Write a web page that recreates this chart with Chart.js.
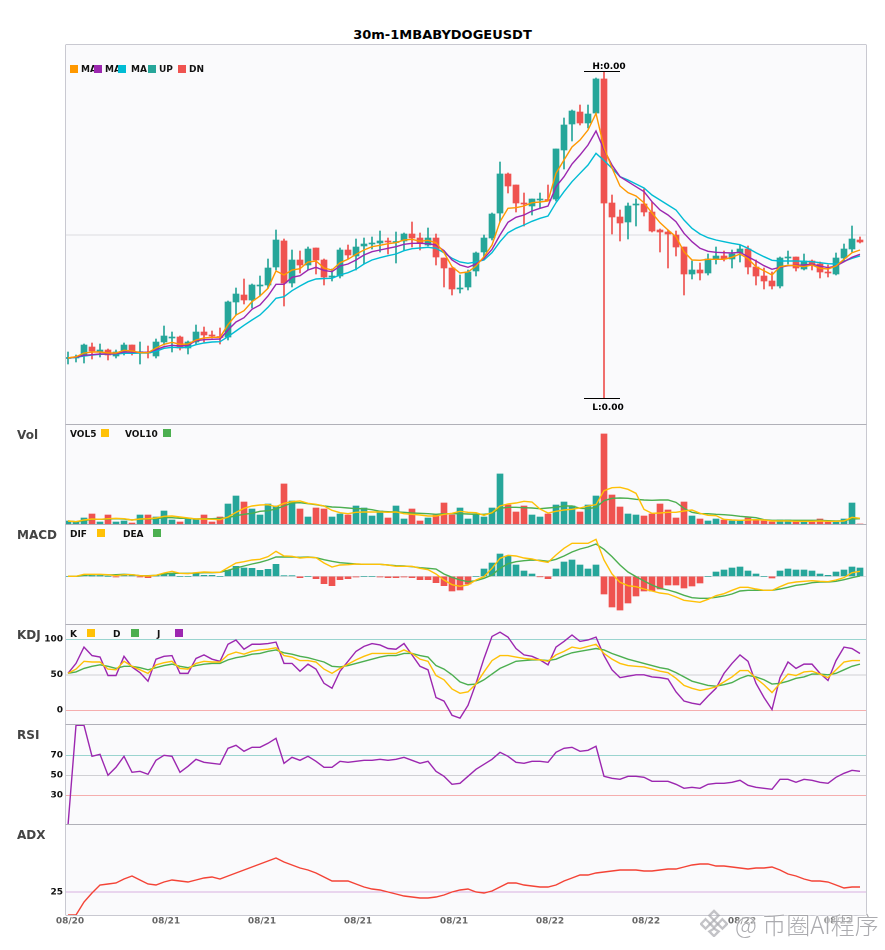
<!DOCTYPE html>
<html>
<head>
<meta charset="utf-8">
<title>30m-1MBABYDOGEUSDT</title>
<script src="https://cdn.jsdelivr.net/npm/chart.js@4"></script>
<style>
  html, body { margin: 0; padding: 0; background: #fff; }
  #page { position: relative; width: 885px; height: 950px; overflow: hidden; font-family: "DejaVu Sans", sans-serif; }
  canvas { position: absolute; left: 0; }
  .title { position: absolute; left: 0; width: 885px; top: 27px; text-align: center; font-size: 13px; font-weight: bold; color: #000; }
  .panel { position: absolute; left: 17px; font-size: 12px; font-weight: bold; color: #444; line-height: 14px; }
  .lg { position: absolute; font-size: 9px; font-weight: bold; color: #111; line-height: 10px; white-space: nowrap; }
  .sq { position: absolute; width: 8px; height: 8px; }
  .mark { position: absolute; left: 735px; top: 906px; font-family: "Noto Sans CJK SC", sans-serif; font-size: 24px; font-weight: 300; color: rgba(150,150,155,0.8); white-space: nowrap; text-shadow: 0 0 3px #fff, 0 0 3px #fff, 0 0 3px #fff; }
  .mark svg { position: absolute; left: -35px; top: 3px; }
</style>
</head>
<body>
<div id="page">
  <div class="title">30m-1MBABYDOGEUSDT</div>
  <canvas id="mainChart" width="885" height="388" style="top:41px"></canvas>
  <canvas id="volChart" width="885" height="108" style="top:421px"></canvas>
  <canvas id="macdChart" width="885" height="108" style="top:521px"></canvas>
  <canvas id="kdjChart" width="885" height="108" style="top:621px"></canvas>
  <canvas id="rsiChart" width="885" height="108" style="top:721px"></canvas>
  <canvas id="adxChart" width="885" height="118" style="top:821px"></canvas>

  <div class="panel" style="top:428px">Vol</div>
  <div class="panel" style="top:528px">MACD</div>
  <div class="panel" style="top:628px">KDJ</div>
  <div class="panel" style="top:728px">RSI</div>
  <div class="panel" style="top:828px">ADX</div>

  <div id="legends"></div>
  <div class="mark">
    <svg width="28" height="28" viewBox="0 0 30 30"><g fill="none" stroke="rgba(170,170,175,0.7)" stroke-width="2.5"><path d="M15 2l5 5-5 5-5-5z"/><path d="M6 11l5 5-5 5-5-5z"/><path d="M24 11l5 5-5 5-5-5z"/><path d="M15 12l4 4-4 4-4-4z"/><path d="M15 21l5 3-5 5-5-5z"/></g></svg>
    @ 币圈AI程序
  </div>
</div>

<script>
const tickLabels = ['08/20', '08/21', '08/21', '08/21', '08/21', '08/22', '08/22', '08/22', '08/22'];
const tickIndexes = [0, 12, 24, 36, 48, 60, 72, 84, 96];

// price panel, no price axis in the picture so values are in relative units
const opens = [66.5,67,69,78,73.7,75,69,73,80,72.3,73,69,83,87,88,77,83,93,90,88,88,123,130,125,139,140,158,184,142,165,160,177,165,148,149,175,169,179,181,182,184,182.5,184,191,187,180,187,167,157,136,138,154,173,187,212,251,240,222,219,225,225,226,275,301,313,302,312,346,222,208,203,220,221,213,195,193,190,178,151,155,152,166,169,166,172,176,158,149,144,139,167,168,156,164,161,153,151,167,176,185];
const closes = [67,67.5,80,74,75,70,73,80,73,73,72,83,89,88,77,83,93,90,89,87.5,123,131,125,140,140,157,185,142,165,160,176,165,148,149,175,170,178,181,182,184,183,183,191,187,182,187,168,157,136,137,153,172,187,211,251,239,222,221,226,226,224.5,276,300,314,302,311,346,222,208,202,219,221,213,194,193,191,178,151,155,152,166,169,166,171,176,158,149,144,139,167,168,157,164,160,153,152,167,176,186,183];
const highs = [73,70,81,82,81,76,75,82,80,83,79,86,99,93,89,84,100,98,94,97,124,137,146,141,149,166,195,186,175,174,178,177,166,156,177,180,186,187,188,194,187,193,192,203,192,197,191,167,157,150,155,173,190,212,263,252,240,232,226,232,240,276,307,315,320,320,347,353,230,215,222,226,236,223,196,195,194,178,164,162,171,178,174,175,180,179,165,157,153,168,174,168,171,165,163,160,172,181,199,188];
const lows = [61,63,62,66,68,65,67,70,70,61,67,67,80,73,75,71,81,83,87,81,85,110,121,117,129,137,155,119,138,152,155,151,140,144,147,166,155,161,176,173,171,162,175,178,175,179,160,138,130,132,135,149,166,185,203,232,213,199,210,217,224,224,256,284,300,297,312,27,191,184,186,199,209,193,173,157,169,130,146,145,150,161,164,157,163,151,140,136,136,137,161,154,155,155,147,148,150,164,173,182];
const ma1 = [67,68.3,72,73,73,72,72,74.7,74,72.3,72.3,77,80.7,82.7,80.7,81,85,87,87.7,87.7,100.3,110,114.3,123.3,129,136.7,154,150,155,156.3,163,164,157,155,162.3,165.7,170.7,175,178.3,179.7,181.3,182.3,185,185.7,183.7,184.7,182.3,172.3,158.3,152,153,159,168.3,180,203.3,216.7,217.3,219,222.3,223,224,251.7,265,278,285,295,311.5,277.5,257,239,232.3,229,222.3,212,202.3,195,188.3,173.3,165,164.7,165.7,165.7,165.7,167.7,171,166.3,158.3,154.3,150,158.3,159.7,159.3,158.3,160,156.7,156,159,165.7,172.3,175];
const ma2 = [67,68,69.7,70.3,71,71,71.3,73,73,72.7,72.7,75.3,78.3,79.7,79,79.7,84.3,85.3,85.7,86,95,103,107.3,115.7,120,129,140.7,140.7,147.7,149.3,155,157.7,154.5,153.3,159,161,165,170,173.3,175,176.7,178.3,180.7,181.7,181.7,181.3,180,174.3,165,160,157.7,161,166.7,175.7,190,202.7,207.7,210,214,216.7,219,238.3,248.3,261,270,280,294,275,260,248.3,243.3,238.3,233.3,223.3,215,210,203.3,191.7,183.3,176.7,173.7,172.7,172.3,172,172.7,168.3,164,159.3,155.7,157.7,159.3,159.7,160,160.7,159,157.3,159,163.3,167.7,170.7];
const ma3 = [67,67.7,69,70,70.7,71,71,71.7,71.7,72,72,73.7,76.7,77.7,77.3,77.7,80.3,82,83,83.3,88.3,94,99.7,105,110,117.7,126.7,128.3,134.3,139,143.3,146,146.5,146.7,150,152.3,155.7,161,165,167.3,169.3,171,174.3,176.3,177,177.7,176.7,172.3,166.7,163,161.7,163,165,172.3,183.3,192.3,196.7,200,203.7,206.7,209,222.3,233.3,243.3,251.7,260,271.7,264.5,256.7,248.3,245,241,237,230,225,220,215,205,196.7,191,187.3,185,183.3,181.7,180.3,176.7,172.3,168.3,164.7,164,164,164,163.7,163.3,162.3,161.3,161,163.7,166.7,169];

const volumes = [10,7,19,31,7,28,7,10,4,28,28,22,40,13,7,16,16,28,7,22,61,85,67,46,28,61,55,121,70,46,22,49,46,22,31,28,55,49,25,40,19,55,16,46,10,19,28,64,28,49,16,31,22,49,151,58,37,55,28,22,31,58,67,55,37,58,85,271,88,52,31,28,25,31,61,43,19,67,25,16,10,16,13,10,10,19,13,10,7,13,13,10,7,7,16,7,7,16,64,1];
const vol5 = [10,8,13,16,15,17,18,17,13,16,17,19,24,25,22,19,16,16,15,14,22,36,48,55,58,59,53,63,68,70,63,60,55,42,35,32,36,37,37,37,36,37,32,30,28,25,25,30,33,39,36,35,27,35,55,61,64,69,67,46,34,39,43,45,49,55,59,101,110,111,105,93,45,33,34,36,36,40,43,33,27,26,15,13,12,13,14,13,10,10,10,9,9,9,10,9,9,10,21,18];
const vol10 = [10,8,11,15,15,16,17,16,13,16,16,17,20,20,18,18,16,17,17,18,20,26,30,33,39,41,46,55,64,65,62,59,55,52,51,49,47,47,44,39,38,37,36,34,33,32,30,32,32,32,31,30,30,33,48,51,51,50,49,47,49,51,55,55,48,47,51,71,78,79,78,75,73,72,73,73,66,48,36,32,32,30,29,27,24,22,20,14,12,12,12,12,12,12,12,11,10,11,16,17];

const macdHist = [0,0,3,1,1,0,-2,3,3,-2,-4,1,6,9,0,0,9,3,3,0,18,30,25,24,18,21,36,2,2,-4,0,-7,-22,-28,-10,-7,-2,0,0,-2,-4,-4,-2,-4,-10,-10,-19,-28,-44,-41,-23,0,22,40,67,61,34,16,7,-1,-7,22,43,49,34,22,34,-53,-92,-101,-80,-59,-44,-44,-38,-26,-26,-35,-29,-20,0,13,19,25,28,16,7,0,-5,16,22,19,19,16,7,3,13,19,28,25];
const dif = [0,0,6,6,6,5,2,5,5,2,1,3,10,15,9,8,11,13,12,12,26,40,44,49,51,59,75,61,60,55,57,56,40,28,34,35,37,36,36,36,34,30,30,30,24,20,7,-11,-25,-30,-26,-11,-1,24,54,63,61,55,52,46,42,64,84,99,99,99,111,49,7,-18,-28,-31,-38,-44,-50,-53,-62,-72,-75,-78,-69,-58,-52,-42,-33,-33,-38,-42,-42,-31,-21,-17,-15,-13,-15,-16,-11,-4,11,15];
const dea = [0,0,3,5,5,4,5,6,5,2,2,3,7,9,9,9,10,11,11,12,18,25,31,37,42,49,58,58,58,57,58,56,50,45,41,39,37,36,36,36,34,32,31,29,26,24,22,7,-3,-11,-16,-13,-6,4,24,38,44,47,49,48,45,51,61,73,82,88,97,81,59,34,13,-1,-14,-26,-36,-41,-48,-57,-64,-66,-66,-63,-59,-53,-44,-42,-42,-42,-42,-38,-33,-27,-24,-19,-17,-17,-15,-10,-4,1];

const kdjK = [52,58,69,68,68,58,57,69,62,57,52,64,67,69,59,58,66,69,68,68,78,82,79,83,85,86,88,77,75,70,70,68,58,52,59,65,71,76,80,80,80,80,85,80,72,69,49,43,30,24,26,37,54,70,77,77,75,73,72,71,69,78,83,89,87,90,93,80,72,66,63,62,61,58,55,53,45,35,31,28,30,33,40,47,56,56,45,36,25,38,51,49,54,55,51,46,57,68,70,70];
const kdjD = [52,54,59,62,64,62,59,62,62,60,57,60,63,65,62,60,63,65,66,66,71,74,76,79,80,83,85,81,79,76,74,71,68,62,61,63,66,69,72,75,77,77,80,80,77,75,63,58,50,40,36,37,43,51,59,64,69,70,71,71,70,72,77,81,83,85,87,85,80,76,72,69,66,63,60,58,53,47,41,38,35,34,36,39,45,49,47,43,37,38,41,45,47,51,51,50,52,57,62,65];
const kdjJ = [52,66,89,77,75,49,49,76,61,53,41,72,76,77,52,52,73,78,72,69,93,99,86,93,93,94,96,66,66,55,65,58,38,31,55,69,83,90,94,92,87,86,94,78,62,57,18,13,-7,-11,7,38,73,104,110,103,87,78,76,71,64,89,97,106,97,99,103,77,57,46,48,50,50,47,46,44,26,13,10,8,20,31,52,66,78,69,38,18,1,46,68,59,65,65,52,42,70,89,87,80];

const rsi = [0,100,100,69,71,50,58,69,53,54,51,65,70,69,53,59,66,63,62,61,77,80,74,78,78,82,87,62,68,65,69,64,58,58,64,63,64,65,65,66,65,66,68,65,62,64,54,49,41,42,49,56,61,66,73,69,63,62,64,64,63,73,77,78,74,75,79,49,47,46,49,49,48,44,44,44,41,37,38,37,41,42,42,43,45,40,38,37,36,46,46,43,46,45,43,42,48,52,55,54];
const adx = [2,2,15,24,32,33,34,38,41,37,33,32,35,37,36,35,37,39,40,38,41,44,47,50,53,56,59,55,52,49,47,44,40,36,36,36,33,30,28,27,25,23,21,20,19,19,20,22,25,27,28,25,24,26,30,34,34,32,31,30,30,32,36,39,42,42,44,45,46,47,47,47,46,46,47,48,48,50,52,53,53,51,51,50,49,48,49,49,50,47,43,41,38,36,36,35,32,29,30,30];

const UP = '#26a69a';
const DOWN = '#ef5350';
const PANEL_BG = '#fafafc';
const FRAME = '#c9c9d1';
const FRAME_DARK = '#b0b0b8';
const xs = closes.map((_, i) => i);
const candleColors = closes.map((c, i) => (c >= opens[i] ? UP : DOWN));
const histColors = macdHist.map(v => (v >= 0 ? UP : DOWN));

function series(values) {
  return values.map((v, i) => ({ x: xs[i], y: v }));
}

function lineSet(values, color, width) {
  return {
    type: 'line',
    data: series(values),
    borderColor: color,
    borderWidth: width || 1.4,
    pointRadius: 0,
    tension: 0,
    order: 1
  };
}

function barSet(points, colors, thickness, extra) {
  return Object.assign({
    type: 'bar',
    data: points,
    backgroundColor: colors,
    borderWidth: 0,
    barThickness: thickness,
    grouped: false,
    order: 3
  }, extra || {});
}

// panel background and frame, drawn by the chart itself
const framePlugin = {
  id: 'frame',
  beforeDraw(chart, args, opts) {
    const a = chart.chartArea;
    const ctx = chart.ctx;
    ctx.save();
    ctx.fillStyle = PANEL_BG;
    ctx.fillRect(a.left, a.top, a.width, a.height);
    ctx.restore();
  },
  afterDraw(chart, args, opts) {
    const a = chart.chartArea;
    const ctx = chart.ctx;
    ctx.save();
    ctx.lineWidth = 1;
    ctx.strokeStyle = FRAME;
    ctx.beginPath();
    ctx.moveTo(a.left - 0.5, a.top);
    ctx.lineTo(a.left - 0.5, a.bottom);
    ctx.moveTo(a.right + 0.5, a.top);
    ctx.lineTo(a.right + 0.5, a.bottom);
    ctx.stroke();
    ctx.strokeStyle = opts.topColor || FRAME_DARK;
    ctx.beginPath();
    ctx.moveTo(a.left - 0.5, a.top - 0.5);
    ctx.lineTo(a.right + 0.5, a.top - 0.5);
    ctx.stroke();
    if (opts.bottom) {
      ctx.strokeStyle = FRAME;
      ctx.beginPath();
      ctx.moveTo(a.left - 0.5, a.bottom + 0.5);
      ctx.lineTo(a.right + 0.5, a.bottom + 0.5);
      ctx.stroke();
    }
    ctx.restore();
  }
};

// H and L markers on the biggest candle
const extremePlugin = {
  id: 'extremes',
  afterDatasetsDraw(chart) {
    const x = chart.scales.x;
    const y = chart.scales.y;
    const hi = Math.max(...highs);
    const lo = Math.min(...lows);
    const hx = x.getPixelForValue(highs.indexOf(hi));
    const lx = x.getPixelForValue(lows.indexOf(lo));
    const ctx = chart.ctx;
    ctx.save();
    ctx.strokeStyle = '#000';
    ctx.lineWidth = 1;
    ctx.fillStyle = '#000';
    ctx.font = 'bold 9px "DejaVu Sans"';
    ctx.textAlign = 'center';
    ctx.beginPath();
    ctx.moveTo(hx - 20, Math.round(y.getPixelForValue(hi)) - 0.5);
    ctx.lineTo(hx + 16, Math.round(y.getPixelForValue(hi)) - 0.5);
    ctx.moveTo(lx - 20, Math.round(y.getPixelForValue(lo)) + 0.5);
    ctx.lineTo(lx + 16, Math.round(y.getPixelForValue(lo)) + 0.5);
    ctx.stroke();
    ctx.fillText('H:0.00', hx + 5, y.getPixelForValue(hi) - 3);
    ctx.fillText('L:0.00', lx + 4, y.getPixelForValue(lo) + 12);
    ctx.restore();
  }
};

function makePanel(id, cfg) {
  const ticks = cfg.ticks;
  const colors = cfg.tickColors || {};
  return new Chart(document.getElementById(id), {
    data: { datasets: cfg.datasets },
    plugins: [framePlugin].concat(cfg.plugins || []),
    options: {
      responsive: false,
      animation: false,
      devicePixelRatio: 2,
      layout: { padding: { top: 4, right: 19, bottom: 4, left: 0 } },
      plugins: {
        legend: { display: false },
        tooltip: { enabled: false },
        frame: { topColor: cfg.topColor, bottom: cfg.showDates }
      },
      scales: {
        x: {
          type: 'linear',
          display: !!cfg.showDates,
          min: -0.25,
          max: 99.75,
          offset: false,
          grid: { display: false, drawTicks: false },
          border: { display: false },
          afterBuildTicks(scale) { scale.ticks = tickIndexes.map(v => ({ value: v })); },
          afterFit(scale) {
            if (cfg.showDates) scale.height = 20;
            scale.paddingLeft = 0;
            scale.paddingRight = 0;
          },
          ticks: {
            autoSkip: false,
            maxRotation: 0,
            padding: 1,
            labelOffset: 2,
            color: '#666',
            font: { family: 'DejaVu Sans', size: 9, weight: 'bold' },
            callback(value) { return tickLabels[tickIndexes.indexOf(value)]; }
          }
        },
        y: {
          min: cfg.min,
          max: cfg.max,
          afterBuildTicks(scale) { scale.ticks = ticks.map(v => ({ value: v })); },
          afterFit(scale) {
            scale.width = 66;
            scale.paddingTop = 0;
            scale.paddingBottom = 0;
          },
          border: { display: false },
          grid: {
            drawTicks: false,
            color(c) { return colors[c.tick.value] || '#dcdce0'; }
          },
          ticks: {
            display: !!cfg.showLabels,
            padding: 3,
            color: '#111',
            font: { family: 'DejaVu Sans', size: 9, weight: 'bold' },
            callback(value) { return String(value); }
          }
        }
      }
    }
  });
}

function addLegend(items) {
  const box = document.getElementById('legends');
  items.forEach(it => {
    const el = document.createElement('div');
    el.style.left = it.x + 'px';
    el.style.top = it.y + 'px';
    if (it.color) {
      el.className = 'sq';
      el.style.background = it.color;
    } else {
      el.className = 'lg';
      el.textContent = it.text;
    }
    box.appendChild(el);
  });
}

window.addEventListener('load', () => {
  const wicks = xs.map(i => ({ x: i, y: [lows[i], highs[i]] }));
  const bodies = xs.map(i => ({ x: i, y: [opens[i], closes[i]] }));
  const volBars = xs.map(i => ({ x: i, y: volumes[i] }));
  const macdBars = xs.map(i => ({ x: i, y: macdHist[i] }));

  makePanel('mainChart', {
    min: 0, max: 380, ticks: [190], topColor: FRAME,
    plugins: [extremePlugin],
    datasets: [
      barSet(wicks, candleColors, 1),
      barSet(bodies, candleColors, 6, { minBarLength: 1 }),
      lineSet(ma1, '#ff9800'),
      lineSet(ma2, '#9c27b0'),
      lineSet(ma3, '#00bcd4')
    ]
  });

  makePanel('volChart', {
    min: -2, max: 298, ticks: [],
    datasets: [
      barSet(volBars, candleColors, 6),
      lineSet(vol5, '#ffc107'),
      lineSet(vol10, '#4caf50')
    ]
  });

  makePanel('macdChart', {
    min: -146, max: 154, ticks: [0],
    datasets: [
      barSet(macdBars, histColors, 6),
      lineSet(dif, '#ffc107'),
      lineSet(dea, '#4caf50')
    ]
  });

  makePanel('kdjChart', {
    min: -20.7, max: 120.1, ticks: [0, 50, 100], showLabels: true,
    tickColors: { 0: 'rgba(239,83,80,0.45)', 50: '#d0d0d4', 100: 'rgba(38,166,154,0.45)' },
    datasets: [
      lineSet(kdjK, '#ffc107'),
      lineSet(kdjD, '#4caf50'),
      lineSet(kdjJ, '#9c27b0')
    ]
  });

  makePanel('rsiChart', {
    min: 0.3, max: 100.3, ticks: [30, 50, 70], showLabels: true,
    tickColors: { 30: 'rgba(239,83,80,0.45)', 50: '#d0d0d4', 70: 'rgba(38,166,154,0.45)' },
    datasets: [lineSet(rsi, '#9c27b0')]
  });

  makePanel('adxChart', {
    min: 2, max: 92, ticks: [25], showLabels: true, showDates: true,
    tickColors: { 25: 'rgba(156,39,176,0.35)' },
    datasets: [lineSet(adx, '#f44336')]
  });

  addLegend([
    { x: 70, y: 65, color: '#ff9800' }, { x: 81, y: 64, text: 'MA' },
    { x: 94, y: 65, color: '#9c27b0' }, { x: 105, y: 64, text: 'MA' },
    { x: 118, y: 65, color: '#00bcd4' }, { x: 131, y: 64, text: 'MA' },
    { x: 148, y: 65, color: UP }, { x: 159, y: 64, text: 'UP' },
    { x: 178, y: 65, color: DOWN }, { x: 189, y: 64, text: 'DN' },
    { x: 70, y: 429, text: 'VOL5' }, { x: 101, y: 429, color: '#ffc107' },
    { x: 125, y: 429, text: 'VOL10' }, { x: 163, y: 429, color: '#4caf50' },
    { x: 70, y: 529, text: 'DIF' }, { x: 97, y: 529, color: '#ffc107' },
    { x: 123, y: 529, text: 'DEA' }, { x: 153, y: 529, color: '#4caf50' },
    { x: 70, y: 629, text: 'K' }, { x: 87, y: 629, color: '#ffc107' },
    { x: 113, y: 629, text: 'D' }, { x: 131, y: 629, color: '#4caf50' },
    { x: 157, y: 629, text: 'J' }, { x: 175, y: 629, color: '#9c27b0' }
  ]);
});
</script>
</body>
</html>
